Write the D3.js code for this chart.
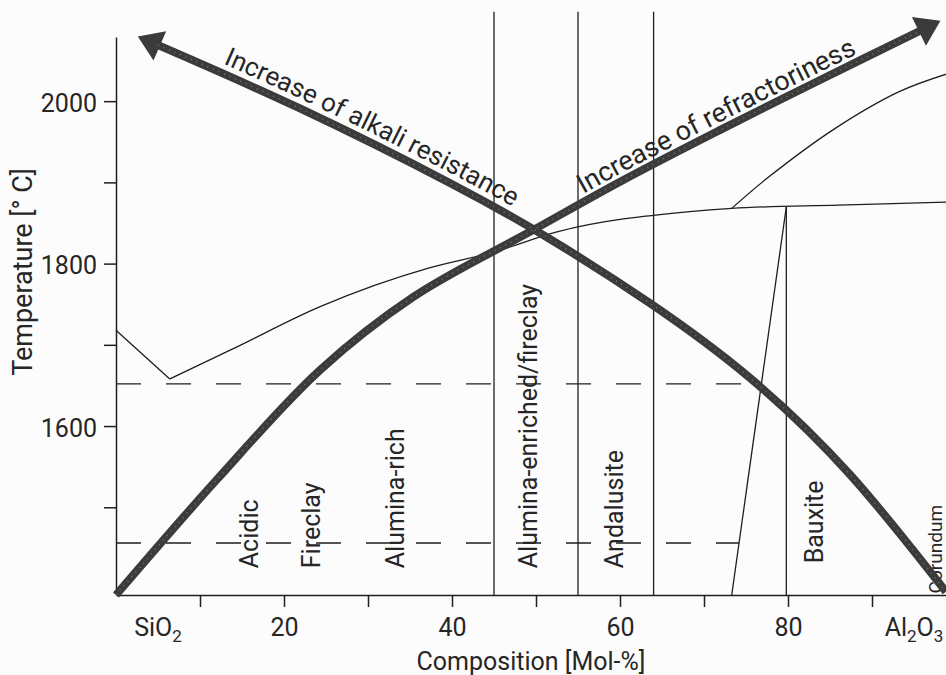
<!DOCTYPE html>
<meta charset="utf-8">
<style>
body { margin: 0; background: #fcfcfc; }
svg { font-family: Roboto, "DejaVu Sans", sans-serif; }
.thin { fill: none; stroke: #1e1e1e; stroke-width: 1.3px; }
.dash { stroke-dasharray: 25, 25; }
.arrow { fill: none; stroke: #3b3b3b; stroke-width: 8px; }
.speck { fill: none; stroke: #9a9a9a; stroke-width: 1.6px; stroke-dasharray: 1, 5; opacity: 0.6; }
.axis path, .axis line { stroke: #1e1e1e; stroke-width: 1.5px; }
.axis text { font-family: Roboto, sans-serif; font-size: 25px; fill: #262626; }
text { fill: #262626; }
</style>
<svg width="946" height="675"></svg>
<script src="https://d3js.org/d3.v7.min.js"></script>
<script>

// composition axis: 0 = SiO2, 100 = Al2O3 [Mol-%]
var xTicks = [10, 20, 30, 40, 50, 60, 70, 80, 90],
    xLabeled = [20, 40, 60, 80],
    yTicks = [1500, 1600, 1700, 1800, 1900, 2000],
    yLabeled = [1600, 1800, 2000];

// liquidus, silica side down to the eutectic
var liqSilicaX = [0, 6.4],
    liqSilicaT = [1718, 1658];
// liquidus, eutectic up to mullite and flat on to corundum side
var liqMulliteX = [6.4, 13.9, 24.3, 37.4, 44.9, 52.5, 68.3, 73.3, 86, 100],
    liqMulliteT = [1658, 1695, 1747, 1795, 1814, 1839, 1864, 1868, 1872, 1876];
// corundum liquidus
var liqCorundX = [73.3, 77.5, 85.4, 93.3, 100],
    liqCorundT = [1868, 1905, 1965, 2012, 2037];
// mullite field edge
var solidusX = [73.3, 79.8],
    solidusT = [1392, 1870];
// dashed isotherms
var isoT = [1652, 1456];

// class boundaries (vertical lines)
var boundX = [45, 55, 64],
    boundTop = 2110,
    bauxiteX = 79.8,
    bauxiteTop = 1870;

// class labels
var catNames = ["Acidic", "Fireclay", "Alumina-rich", "Alumina-enriched/fireclay", "Andalusite", "Bauxite", "Corundum"],
    catX = [16.9, 24.3, 34.3, 50.1, 60.4, 84.2, 98.3],
    catT = [1425, 1425, 1425, 1425, 1425, 1431, 1394];

// the two trend arrows
var alkaliX = [5.0, 21.9, 39.8, 51.7, 63.6, 75.5, 87.4, 98.8],
    alkaliT = [2069, 1991, 1899, 1830, 1751, 1659, 1540, 1396];
var refracX = [0, 12.0, 24.3, 35.4, 49.6, 60.4, 72, 84, 95.8],
    refracT = [1392, 1534, 1669, 1759, 1841, 1903, 1965, 2027, 2087];

var svg = d3.select("svg"),
    width = +svg.attr("width"),
    height = +svg.attr("height");

var x = d3.scaleLinear().domain([0, 100]).range([116, 956]);
var y = d3.scaleLinear().domain([1392, 2079]).range([595, 37]);

function pts(xs, ts) { return xs.map(function(d, i) { return [d, ts[i]]; }); }

var line = d3.line().x(function(d) { return x(d[0]); }).y(function(d) { return y(d[1]); });
var smooth = d3.line().x(function(d) { return x(d[0]); }).y(function(d) { return y(d[1]); })
    .curve(d3.curveCatmullRom);
var natural = d3.line().x(function(d) { return x(d[0]); }).y(function(d) { return y(d[1]); })
    .curve(d3.curveNatural);
var mono = d3.line().x(function(d) { return x(d[0]); }).y(function(d) { return y(d[1]); })
    .curve(d3.curveMonotoneX);

// arrow head
svg.append("defs").append("marker")
    .attr("id", "head")
    .attr("markerUnits", "userSpaceOnUse")
    .attr("markerWidth", 26).attr("markerHeight", 34)
    .attr("viewBox", "0 0 24 34")
    .attr("refX", 2).attr("refY", 17)
    .attr("orient", "auto-start-reverse")
  .append("path")
    .attr("d", "M0,1L24,17L0,33Z")
    .attr("fill", "#3b3b3b");

// class boundaries
svg.append("g").selectAll("line")
    .data(boundX)
    .enter().append("line")
    .attr("class", "thin")
    .attr("x1", function(d) { return x(d); }).attr("x2", function(d) { return x(d); })
    .attr("y1", y(y.domain()[0])).attr("y2", y(boundTop));

svg.append("line").attr("class", "thin")
    .attr("x1", x(bauxiteX)).attr("x2", x(bauxiteX))
    .attr("y1", y(y.domain()[0])).attr("y2", y(bauxiteTop));

// phase lines
svg.append("path").attr("class", "thin").attr("d", line(pts(liqSilicaX, liqSilicaT)));
svg.append("path").attr("class", "thin").attr("d", mono(pts(liqMulliteX, liqMulliteT)));
svg.append("path").attr("class", "thin").attr("d", smooth(pts(liqCorundX, liqCorundT)));
svg.append("path").attr("class", "thin").attr("d", line(pts(solidusX, solidusT)));

// isotherms end at the mullite field edge
function edgeAt(t) {
  var f = (t - solidusT[0]) / (solidusT[1] - solidusT[0]);
  return solidusX[0] + f * (solidusX[1] - solidusX[0]);
}
svg.append("g").selectAll("line")
    .data(isoT)
    .enter().append("line")
    .attr("class", "thin dash")
    .attr("x1", x(0)).attr("x2", function(d) { return x(edgeAt(d)); })
    .attr("y1", function(d) { return y(d); }).attr("y2", function(d) { return y(d); });

// axes
svg.append("g")
    .attr("class", "axis")
    .attr("transform", "translate(" + x(0) + ",0)")
    .call(d3.axisLeft(y).tickValues(yTicks).tickSize(12).tickSizeOuter(0).tickPadding(7)
      .tickFormat(function(d) { return yLabeled.indexOf(d) >= 0 ? d : ""; }))
    .selectAll("text").attr("dy", "0.4em");

svg.append("g")
    .attr("class", "axis")
    .attr("transform", "translate(0," + y(y.domain()[0]) + ")")
    .call(d3.axisBottom(x).tickValues(xTicks).tickSize(12).tickSizeOuter(0).tickPadding(11)
      .tickFormat(function(d) { return xLabeled.indexOf(d) >= 0 ? d : ""; }));

// end members
var ends = [
  { pos: 5, parts: [["SiO", "2"]] },
  { pos: 95, parts: [["Al", "2"], ["O", "3"]] }
];
ends.forEach(function(e) {
  var t = svg.append("text")
      .attr("x", x(e.pos)).attr("y", 636)
      .attr("text-anchor", "middle")
      .style("font-size", "25px");
  e.parts.forEach(function(p, i) {
    t.append("tspan").attr("dy", i ? -6 : 0).text(p[0]);
    t.append("tspan").attr("dy", 6).style("font-size", "17px").text(p[1]);
  });
});

// axis titles
svg.append("text")
    .attr("x", (x(0) + width) / 2).attr("y", 670)
    .attr("text-anchor", "middle")
    .style("font-size", "25px")
    .text("Composition [Mol-%]");

svg.append("text")
    .attr("transform", "translate(32,272) rotate(-90)")
    .attr("text-anchor", "middle")
    .style("font-size", "27px")
    .text("Temperature [\u00b0 C]");

// class labels
svg.append("g").selectAll("text")
    .data(catNames)
    .enter().append("text")
    .attr("transform", function(d, i) { return "translate(" + x(catX[i]) + "," + y(catT[i]) + ") rotate(-90)"; })
    .style("font-size", function(d, i) { return i == catNames.length - 1 ? "19px" : "25px"; })
    .text(function(d) { return d; });

// trend arrows
var a1 = svg.append("path").attr("id", "alkali").attr("class", "arrow")
    .attr("d", natural(pts(alkaliX, alkaliT)))
    .attr("marker-start", "url(#head)");
var a2 = svg.append("path").attr("id", "refrac").attr("class", "arrow")
    .attr("d", smooth(pts(refracX, refracT)))
    .attr("marker-end", "url(#head)");
svg.append("path").attr("class", "speck").attr("d", natural(pts(alkaliX, alkaliT)));
svg.append("path").attr("class", "speck").attr("d", smooth(pts(refracX, refracT)));

function offsetAt(node, px) {
  var L = node.getTotalLength();
  for (var l = 0; l < L; l += 0.5) {
    if (node.getPointAtLength(l).x >= px) return l;
  }
  return 0;
}

svg.append("text")
    .attr("dy", -9)
    .style("font-size", "26px")
  .append("textPath")
    .attr("href", "#alkali")
    .attr("startOffset", offsetAt(a1.node(), x(12.3)))
    .text("Increase of alkali resistance");

svg.append("text")
    .attr("dy", -7)
    .style("font-size", "27px")
  .append("textPath")
    .attr("href", "#refrac")
    .attr("startOffset", offsetAt(a2.node(), x(56.0)))
    .text("Increase of refractoriness");

</script>
